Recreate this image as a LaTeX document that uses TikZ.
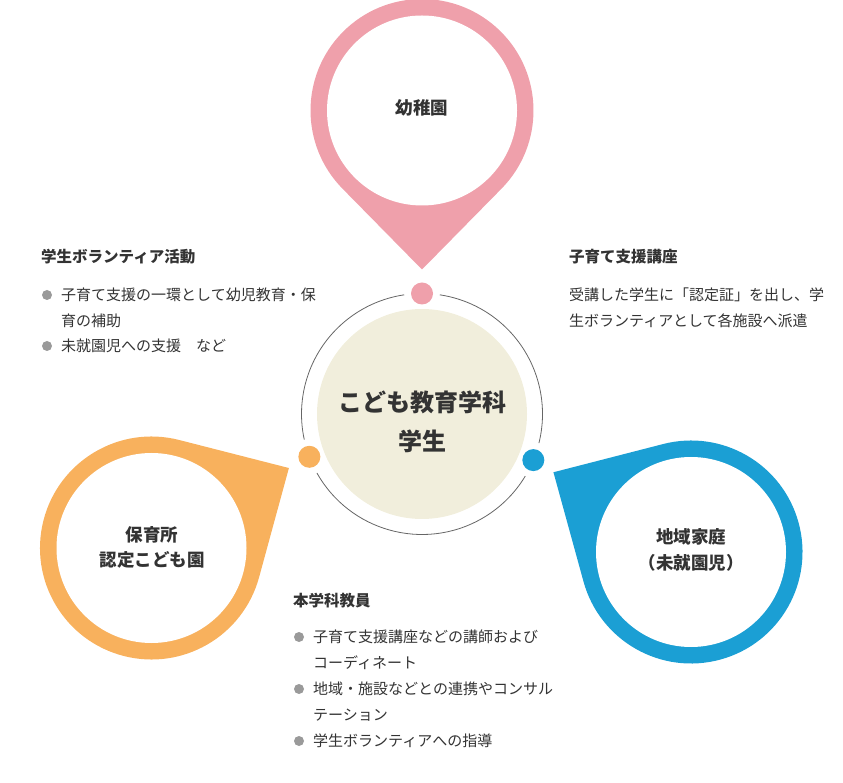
\documentclass[tikz,border=0pt]{standalone}
\usepackage{fontspec}
\setmainfont{Noto Sans CJK JP}
\usetikzlibrary{calc}
\definecolor{pinkc}{HTML}{EFA0AB}
\definecolor{orangec}{HTML}{F8B15D}
\definecolor{bluec}{HTML}{1B9FD4}
\definecolor{beigec}{HTML}{F1EEDC}
\definecolor{textc}{HTML}{333333}
\definecolor{bulc}{HTML}{9A9A9A}
\definecolor{ringc}{HTML}{666666}
\tikzset{
  body/.style={inner sep=0pt, anchor=west, text=textc, text height=13.2pt, text depth=1.8pt, font=\fontsize{15}{15}\selectfont},
  head/.style={inner sep=0pt, anchor=west, text=textc, text height=13.6pt, text depth=1.9pt, font=\fontsize{15.5}{15.5}\selectfont\bfseries},
  pinlabel/.style={inner sep=0pt, text=textc, text height=15.4pt, text depth=2.1pt, font=\fontsize{17.5}{17.5}\selectfont\bfseries},
  centerlabel/.style={inner sep=0pt, text=textc, text height=21.1pt, text depth=2.9pt, font=\fontsize{24}{24}\selectfont\bfseries},
  bul/.style={circle, fill=bulc, inner sep=0pt, minimum size=10pt},
  ring/.style={draw=ringc, line width=0.8pt},
  hole/.style={circle, fill=white, inner sep=0pt, minimum size=190pt},
  dot/.style={circle, inner sep=0pt, minimum size=22pt},
}
\begin{document}
\begin{tikzpicture}[x=1pt,y=1pt]
\useasboundingbox (0,0) rectangle (843,782);
% centres
\coordinate (C) at (422,368);
\coordinate (pinkC) at (422,671.5);
\coordinate (orangeC) at (151.5,234);
\coordinate (blueC) at (691,230);
\coordinate (pinkT) at ($(pinkC)+(270:159)$);
\coordinate (orangeT) at ($(orangeC)+(30.2:159)$);
\coordinate (blueT) at ($(blueC)+(149.9:159)$);
% pins
\fill[pinkc] (pinkT) -- ($(pinkC)+(315.5:111.5)$) arc[start angle=315.5, end angle=584.5, radius=111.5] -- cycle;
\fill[orangec] (orangeT) -- ($(orangeC)+(75.7:111.5)$) arc[start angle=75.7, end angle=344.7, radius=111.5] -- cycle;
\fill[bluec] (blueT) -- ($(blueC)+(195.4:111.5)$) arc[start angle=195.4, end angle=464.4, radius=111.5] -- cycle;
\node[hole] (pinkH) at (pinkC) {};
\node[hole] (orangeH) at (orangeC) {};
\node[hole] (blueH) at (blueC) {};
% pin labels
\node[pinlabel] (l1) at (422,674) {幼稚園};
\node[pinlabel] (l2) at (152,247) {保育所};
\node[pinlabel] (l3) at (152,222) {認定こども園};
\node[pinlabel] (l4) at (691,245) {地域家庭};
\node[pinlabel] (l5) at (691,219) {（未就園児）};
% central circle
\node[circle, fill=beigec, inner sep=0pt, minimum size=210pt] (core) at (C) {};
\draw[ring] ($(C)+(98.5:120.5)$) arc[start angle=98.5, end angle=192.3, radius=120.5];
\draw[ring] ($(C)+(209.3:120.5)$) arc[start angle=209.3, end angle=329, radius=120.5];
\draw[ring] ($(C)+(346:120.5)$) arc[start angle=346, end angle=441.5, radius=120.5];
\node[dot, fill=pinkc] (dp) at ($(C)+(90:120.5)$) {};
\node[dot, fill=orangec] (do) at ($(C)+(200.8:120.5)$) {};
\node[dot, fill=bluec] (db) at ($(C)+(-22.5:120.5)$) {};
\node[centerlabel] (c1) at (422,380) {こども教育学科};
\node[centerlabel] (c2) at (422,341) {学生};
% left text block
\node[head] (h1) at (41,525) {学生ボランティア活動};
\node[bul] (b11) at (47,487) {};
\node[body] (t11) at (61,487) {子育て支援の一環として幼児教育・保};
\node[body] (t12) at (61,461) {育の補助};
\node[bul] (b12) at (47,436) {};
\node[body] (t13) at (61,436) {未就園児への支援　など};
% right text block
\node[head] (h2) at (569,525) {子育て支援講座};
\node[body] (t21) at (569,487) {受講した学生に「認定証」を出し、学};
\node[body] (t22) at (569,461) {生ボランティアとして各施設へ派遣};
% bottom text block
\node[head] (h3) at (293,181) {本学科教員};
\node[bul] (b31) at (299,145) {};
\node[body] (t31) at (313,145) {子育て支援講座などの講師および};
\node[body] (t32) at (313,119) {コーディネート};
\node[bul] (b32) at (299,93) {};
\node[body] (t33) at (313,93) {地域・施設などとの連携やコンサル};
\node[body] (t34) at (313,67) {テーション};
\node[bul] (b33) at (299,41) {};
\node[body] (t35) at (313,41) {学生ボランティアへの指導};
\end{tikzpicture}
\end{document}
